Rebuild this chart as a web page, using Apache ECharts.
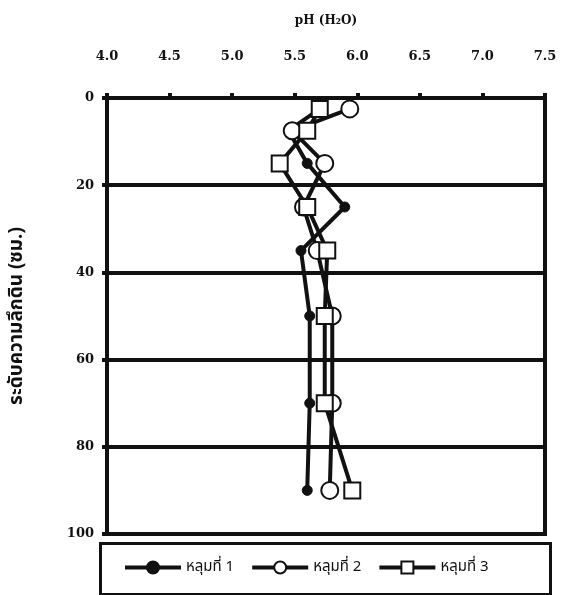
<!DOCTYPE html>
<html><head><meta charset="utf-8">
<script src="https://cdn.jsdelivr.net/npm/echarts@6/dist/echarts.min.js"></script>
<style>html,body{margin:0;padding:0;background:#fff}#c{width:563px;height:595px}</style>
</head><body><div id="c"></div>
<script>
const depths = [2.5, 7.5, 15, 25, 35, 50, 70, 90];
const pit1 = [5.70, 5.45, 5.60, 5.90, 5.55, 5.62, 5.62, 5.60];
const pit2 = [5.94, 5.48, 5.74, 5.57, 5.68, 5.80, 5.80, 5.78];
const pit3 = [5.70, 5.60, 5.38, 5.60, 5.76, 5.74, 5.74, 5.96];
const seriesNames = ['หลุมที่ 1', 'หลุมที่ 2', 'หลุมที่ 3'];
const xTitle = 'pH (H₂O)';
const yTitle = 'ระดับความลึกดิน (ซม.)';

const labelFont = {fontFamily: 'DejaVu Serif', fontWeight: 'bold', fontSize: 13, color: '#111'};
const thaiFont = "'Noto Sans Thai','Noto Sans','DejaVu Sans',sans-serif";

function pairs(vals){ return vals.map((v,i)=>[v, depths[i]]); }

const chart = echarts.init(document.getElementById('c'));
chart.setOption({
  animation: false,
  backgroundColor: '#fff',
  grid: {left: 107, right: 18, top: 98, bottom: 61, show: true, borderColor: '#111', borderWidth: 4,
         containLabel: false, outerBoundsMode: 'none'},
  xAxis: {
    type: 'value', position: 'top', min: 4, max: 7.5, interval: 0.5,
    name: xTitle, nameLocation: 'middle', nameGap: 71,
    nameTextStyle: Object.assign({}, labelFont, {fontSize: 12}),
    axisLine: {show: true, lineStyle: {color: '#111', width: 4}},
    axisTick: {show: true, length: 5, lineStyle: {color: '#111', width: 4}},
    axisLabel: Object.assign({margin: 35, formatter: v => v.toFixed(1)}, labelFont),
    splitLine: {show: false}
  },
  yAxis: {
    type: 'value', inverse: true, min: 0, max: 100, interval: 20,
    name: yTitle, nameLocation: 'middle', nameGap: 79, nameRotate: 90,
    nameTextStyle: {fontFamily: thaiFont, fontWeight: 'bold', fontSize: 19, color: '#111'},
    axisLine: {show: true, lineStyle: {color: '#111', width: 4}},
    axisTick: {show: true, length: 5, lineStyle: {color: '#111', width: 4}},
    axisLabel: Object.assign({margin: 13}, labelFont),
    splitLine: {show: true, lineStyle: {color: '#111', width: 4}}
  },
  legend: {
    left: 118, top: 555, itemGap: 16, itemWidth: 56, itemHeight: 15,
    textStyle: {fontFamily: thaiFont, fontSize: 15, color: '#111'},
    lineStyle: {width: 4, color: '#111'},
    data: seriesNames
  },
  graphic: [{
    type: 'rect', left: 98, top: 541, shape: {width: 450, height: 51},
    style: {fill: 'none', stroke: '#111', lineWidth: 3}, z: 0
  }],
  series: [
    {name: seriesNames[0], type: 'line', data: pairs(pit1), symbol: 'circle', symbolSize: 10,
     lineStyle: {color: '#111', width: 4}, itemStyle: {color: '#111', borderColor: '#111', borderWidth: 1}, z: 3},
    {name: seriesNames[1], type: 'line', data: pairs(pit2), symbol: 'circle', symbolSize: 17,
     lineStyle: {color: '#111', width: 4}, itemStyle: {color: '#fff', borderColor: '#111', borderWidth: 2}, z: 4},
    {name: seriesNames[2], type: 'line', data: pairs(pit3), symbol: 'rect', symbolSize: 16,
     lineStyle: {color: '#111', width: 4}, itemStyle: {color: '#fff', borderColor: '#111', borderWidth: 2}, z: 5}
  ]
});
</script></body></html>
